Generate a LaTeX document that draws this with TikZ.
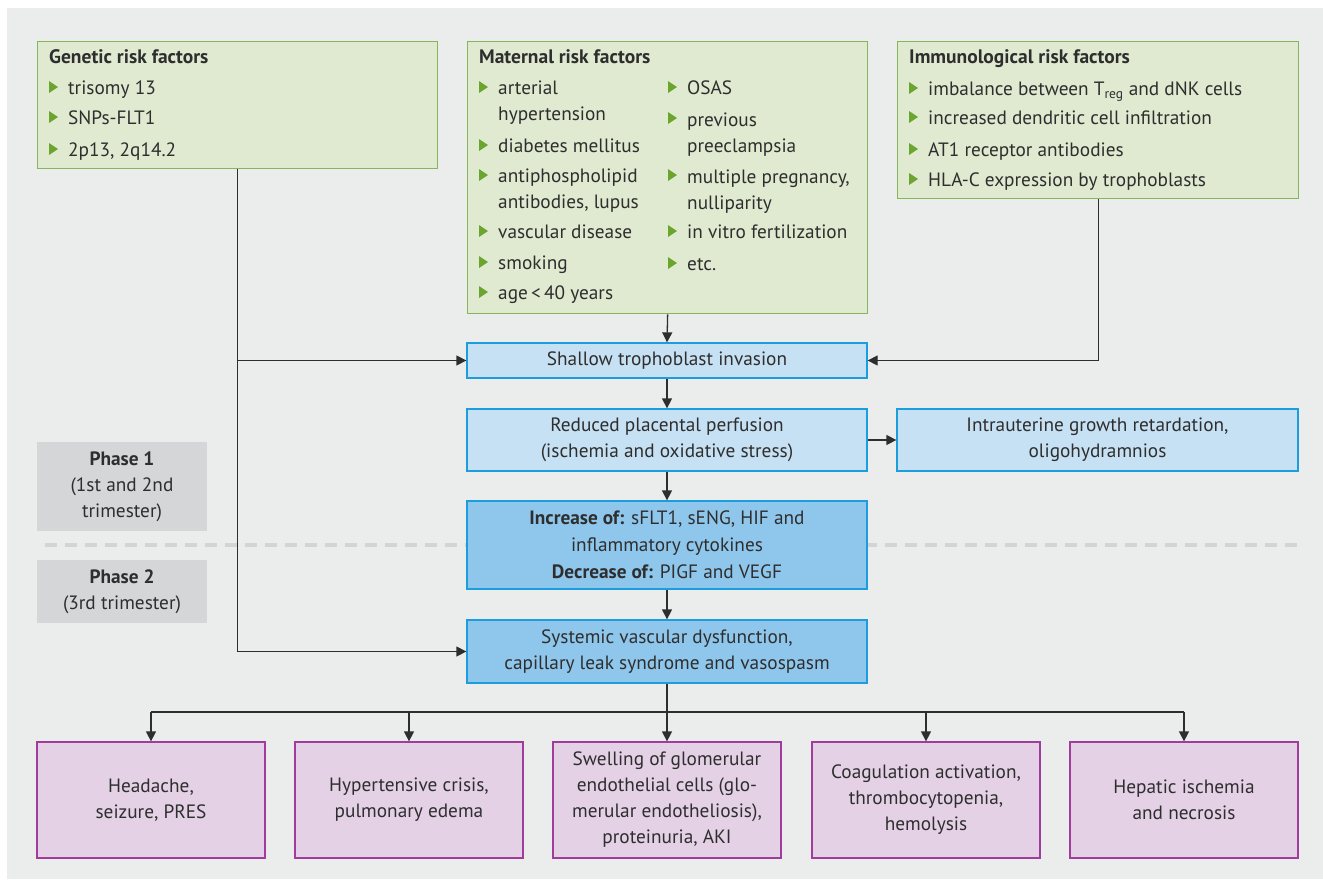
\documentclass[tikz,border=0pt]{standalone}
\usepackage{fontspec}
\setmainfont{PT Sans}
\usetikzlibrary{arrows.meta}

\definecolor{bggray}{HTML}{EBECEC}
\definecolor{phasegray}{HTML}{D5D6D7}
\definecolor{dashgray}{HTML}{D3D4D5}
\definecolor{riskfill}{HTML}{DFEAD1}
\definecolor{riskline}{HTML}{86B55A}
\definecolor{bulgreen}{HTML}{6BA52F}
\definecolor{flowfill}{HTML}{C7E1F4}
\definecolor{flowdark}{HTML}{8FC7EC}
\definecolor{flowline}{HTML}{1B9DDE}
\definecolor{endfill}{HTML}{E5D1E6}
\definecolor{endline}{HTML}{A03C9E}
\definecolor{inkgray}{HTML}{2E2E2E}

\tikzset{
  riskbox/.style={draw=riskline, fill=riskfill, line width=1.3pt, anchor=north west, inner sep=0pt},
  flowbox/.style={draw=flowline, fill=flowfill, line width=1.3pt, align=center, minimum width=400pt, text=inkgray},
  endbox/.style={draw=endline, fill=endfill, line width=1.3pt, align=center, minimum width=228pt, minimum height=116pt, text=inkgray},
  phasebox/.style={fill=phasegray, align=center, minimum width=170pt, text=inkgray},
  item/.style={anchor=base west, align=left, inner sep=0pt, text=inkgray},
  title/.style={item, font=\fontsize{19.5}{26}\selectfont\bfseries},
  conn/.style={draw=inkgray, line width=1.3pt, -{Triangle[length=10pt,width=10pt]}}
}

\begin{document}
\begin{tikzpicture}[x=1pt, y=-1pt, font=\fontsize{19.3}{26}\selectfont]

\useasboundingbox (0,0) rectangle (1323,879);
\fill[bggray] (7,8) rectangle (1323,879);

% phase separation
\draw[dashgray, line width=4pt, dash pattern=on 12pt off 8pt] (45,545) -- (1300,545);

\node[phasebox, minimum height=89pt] (phaseA) at (122,486.5) {\textbf{Phase 1}\\(1st and 2nd\\trimester)};
\node[phasebox, minimum height=63pt] (phaseB) at (122,591.5) {\textbf{Phase 2}\\(3rd trimester)};

% risk factor boxes
\node[riskbox, minimum width=400pt, minimum height=127pt] (genetic) at (37,41) {};
\node[riskbox, minimum width=400pt, minimum height=272pt] (maternal) at (467,41) {};
\node[riskbox, minimum width=401pt, minimum height=157pt] (immuno) at (897,41) {};

\node[title] (genT) at (49,63) {Genetic risk factors};
\node[title] (matT) at (479,63) {Maternal risk factors};
\node[title] (immT) at (909,63) {Immunological risk factors};

\foreach \y/\t [count=\i] in {94/trisomy 13, 124/SNPs-FLT1, 156/{2p13, 2q14.2}}
    \node[item] (gen\i) at (68,\y) {\t};

% multi-line items sit on the baseline of their last line
\foreach \y/\t [count=\i] in {120/{arterial\\hypertension}, 152/diabetes mellitus,
    208/{antiphospholipid\\antibodies, lupus}, 238/vascular disease, 269/smoking,
    299/{age\,<\,40 years}}
    \node[item] (matA\i) at (498,\y) {\t};

\foreach \y/\t [count=\i] in {94/OSAS, 152/{previous\\preeclampsia},
    209/{multiple pregnancy,\\nulliparity}, 238/in vitro fertilization, 270/etc.}
    \node[item] (matB\i) at (687,\y) {\t};

\foreach \y/\t [count=\i] in {95/{imbalance between T\textsubscript{reg} and dNK cells},
    124/increased dendritic cell infiltration, 156/AT1 receptor antibodies,
    186/HLA-C expression by trophoblasts}
    \node[item] (imm\i) at (928,\y) {\t};

% bullets
\foreach \x/\y in {49/94, 49/124, 49/156,
    479/94, 479/152, 479/182, 479/238, 479/269, 479/299,
    668/94, 668/125, 668/182, 668/238, 668/270,
    909/95, 909/124, 909/156, 909/186}
    \fill[bulgreen] (\x,\y-1) -- (\x,\y-13) -- (\x+9,\y-7) -- cycle;

% flow
\node[flowbox, minimum height=35pt] (shallow) at (667,360.5) {Shallow trophoblast invasion};
\node[flowbox, minimum height=62pt] (reduced) at (667,440) {Reduced placental perfusion\\(ischemia and oxidative stress)};
\node[flowbox, minimum height=62pt, minimum width=401pt] (iugr) at (1097.5,440) {Intrauterine growth retardation,\\oligohydramnios};
\node[flowbox, fill=flowdark, minimum height=88pt, font=\fontsize{19.3}{27}\selectfont] (increase) at (667,545)
    {\textbf{Increase of:} sFLT1, sENG, HIF and\\inflammatory cytokines\\\textbf{Decrease of:} PIGF and VEGF};
\node[flowbox, fill=flowdark, minimum height=63pt] (systemic) at (667,651.5) {Systemic vascular dysfunction,\\capillary leak syndrome and vasospasm};

% end organ effects
\node[endbox] (head) at (151,800) {Headache,\\seizure, PRES};
\node[endbox] (crisis) at (409,800) {Hypertensive crisis,\\pulmonary edema};
\node[endbox] (kidney) at (667,800) {Swelling of glomerular\\endothelial cells (glo-\\merular endotheliosis),\\proteinuria, AKI};
\node[endbox] (coag) at (926,800) {Coagulation activation,\\thrombocytopenia,\\hemolysis};
\node[endbox] (liver) at (1184,800) {Hepatic ischemia\\and necrosis};

\coordinate (fork) at (667,712);

% connectors
\draw[conn] (genetic.south) |- (shallow.west);
\draw[conn] (genetic.south) |- (systemic.west);
\draw[conn] (maternal.south) -- (shallow.north);
\draw[conn] (immuno.south) |- (shallow.east);
\draw[conn] (shallow) -- (reduced);
\draw[conn] (reduced) -- (increase);
\draw[conn] (increase) -- (systemic);
\draw[conn] (reduced) -- (iugr);
\draw[conn] (systemic) -- (kidney);
\draw[draw=inkgray, line width=1.3pt] (head.north |- fork) -- (liver.north |- fork);
\foreach \n in {head, crisis, coag, liver}
    \draw[conn] (\n.north |- fork) -- (\n.north);

\end{tikzpicture}
\end{document}
